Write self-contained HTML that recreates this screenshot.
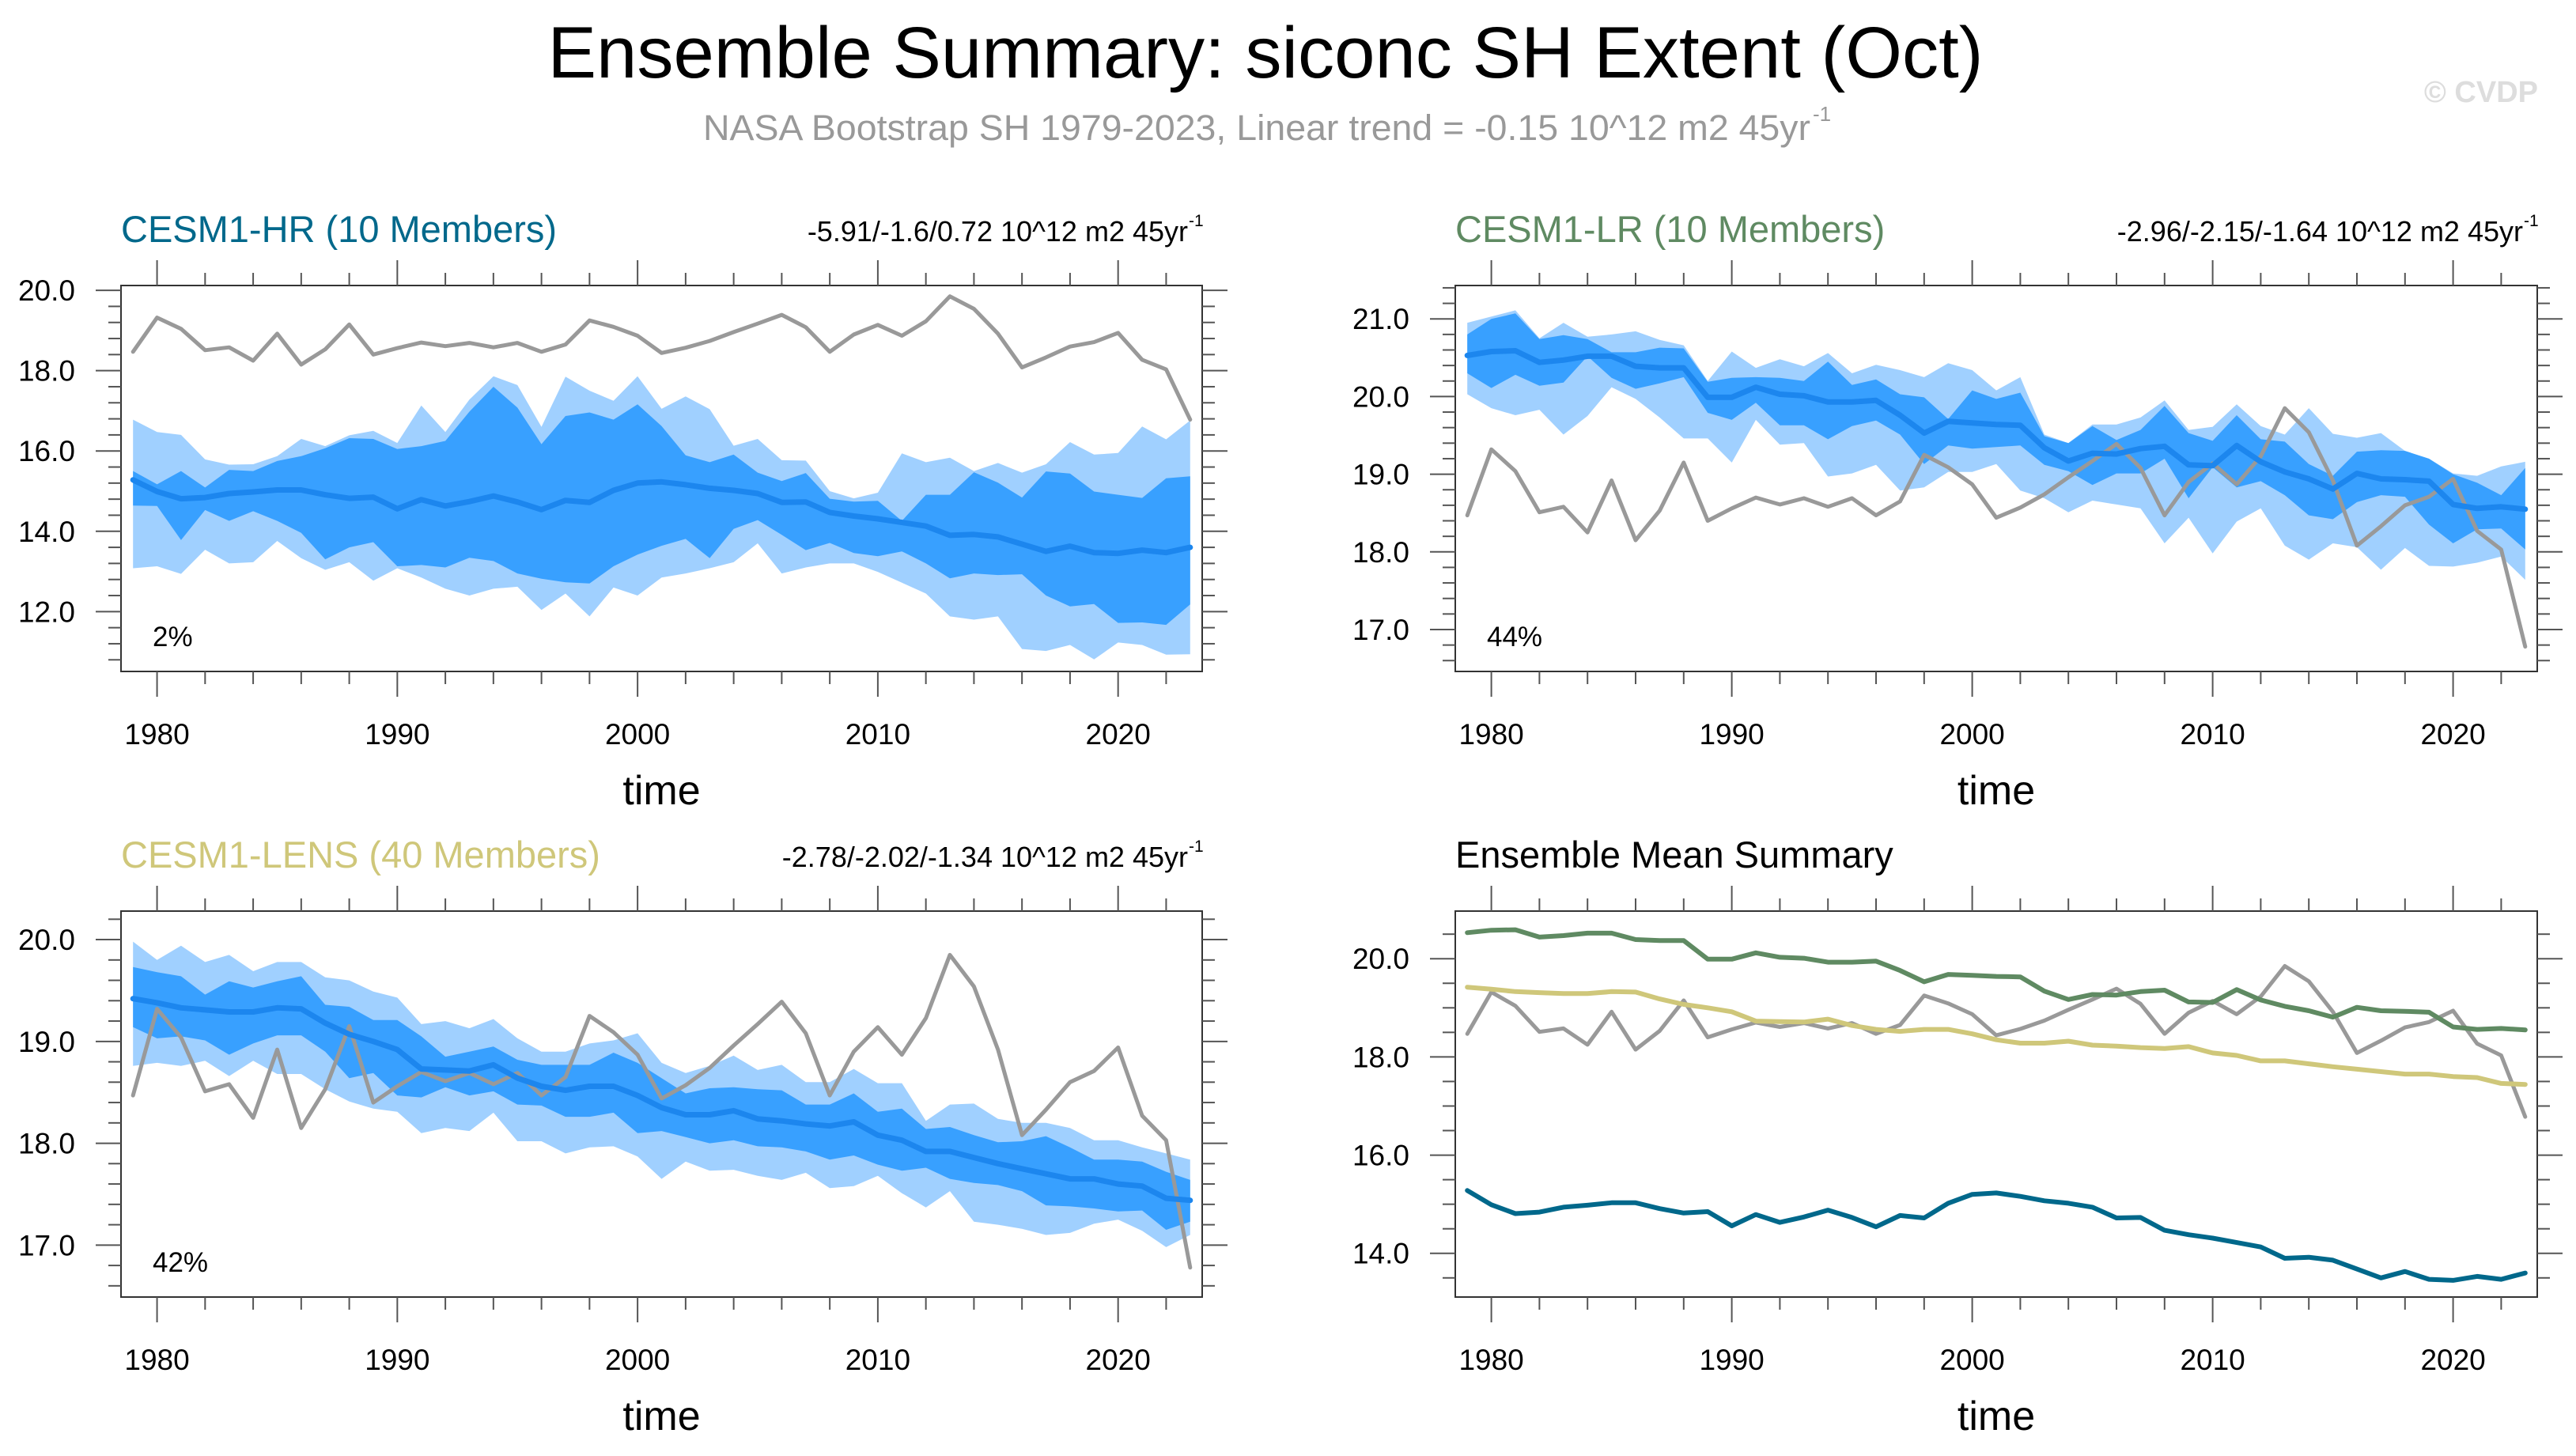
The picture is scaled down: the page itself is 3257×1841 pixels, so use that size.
<!DOCTYPE html>
<html><head><meta charset="utf-8">
<style>
html,body{margin:0;padding:0;background:#fff;}
svg{display:block;font-family:"Liberation Sans",Arial,sans-serif;}
</style></head>
<body>
<svg id="fig" width="3257" height="1841" viewBox="0 0 3257 1841" xmlns="http://www.w3.org/2000/svg">
<text x="1600" y="98" font-size="92" text-anchor="middle" textLength="1815" lengthAdjust="spacingAndGlyphs">Ensemble Summary: siconc SH Extent (Oct)</text>
<text x="889" y="177" font-size="45" fill="#999" textLength="1400" lengthAdjust="spacingAndGlyphs">NASA Bootstrap SH 1979-2023, Linear trend = -0.15 10^12 m2 45yr</text>
<text x="2292" y="153" font-size="26" fill="#999">-1</text>
<text x="3209" y="129" font-size="38" font-weight="bold" fill="#ddd" text-anchor="end">© CVDP</text>
<g id="panels"></g>
</svg>
<script>
const years = [];
for (let y = 1979; y <= 2023; y++) years.push(y);
const obs = [18.47,19.32,19.04,18.51,18.58,18.25,18.92,18.15,18.53,19.15,18.40,18.56,18.70,18.61,18.69,18.58,18.69,18.47,18.65,19.25,19.09,18.87,18.44,18.57,18.74,18.96,19.17,19.39,19.08,18.47,18.90,19.14,18.87,19.23,19.85,19.54,18.92,18.08,18.33,18.60,18.71,18.94,18.27,18.03,16.78];
const hrMean = [15.28,14.99,14.81,14.84,14.94,14.98,15.03,15.03,14.91,14.82,14.85,14.56,14.79,14.63,14.74,14.88,14.73,14.54,14.77,14.72,15.02,15.20,15.23,15.16,15.07,15.02,14.94,14.72,14.73,14.47,14.38,14.31,14.22,14.13,13.90,13.92,13.86,13.68,13.50,13.63,13.47,13.45,13.53,13.47,13.60];
const hrOutTop = [16.78,16.47,16.40,15.79,15.66,15.67,15.87,16.30,16.12,16.39,16.50,16.20,17.13,16.47,17.28,17.86,17.64,16.60,17.85,17.50,17.25,17.86,17.05,17.36,17.04,16.13,16.30,15.77,15.76,15.00,14.82,14.96,15.94,15.72,15.83,15.50,15.70,15.46,15.67,16.22,15.91,15.95,16.61,16.29,16.76];
const hrInTop = [15.50,15.17,15.50,15.09,15.53,15.50,15.75,15.87,16.07,16.32,16.30,16.05,16.12,16.25,16.98,17.60,17.08,16.17,16.87,16.96,16.78,17.16,16.62,15.89,15.72,15.91,15.46,15.25,15.45,14.81,14.74,14.76,14.26,14.91,14.91,15.47,15.21,14.84,15.49,15.44,14.99,14.91,14.83,15.32,15.37];
const hrInBot = [14.64,14.63,13.78,14.53,14.26,14.50,14.26,13.96,13.30,13.60,13.73,13.13,13.16,13.10,13.34,13.26,12.95,12.82,12.73,12.70,13.13,13.42,13.64,13.81,13.33,14.06,14.28,13.91,13.53,13.71,13.46,13.38,13.50,13.20,12.83,12.95,12.91,12.93,12.40,12.13,12.19,11.72,11.73,11.67,12.18];
const hrOutBot = [13.08,13.13,12.94,13.54,13.20,13.23,13.76,13.33,13.04,13.23,12.77,13.08,12.85,12.57,12.40,12.57,12.62,12.04,12.45,11.88,12.60,12.40,12.85,12.95,13.08,13.23,13.70,12.95,13.10,13.20,13.20,12.99,12.72,12.45,11.88,11.80,11.88,11.07,11.02,11.17,10.81,11.23,11.17,10.93,10.94];
const lrMean = [20.53,20.58,20.59,20.44,20.47,20.52,20.52,20.39,20.37,20.37,19.99,19.99,20.12,20.03,20.01,19.93,19.93,19.95,19.76,19.53,19.68,19.66,19.64,19.63,19.34,19.17,19.27,19.26,19.33,19.36,19.12,19.11,19.37,19.16,19.03,18.94,18.81,19.01,18.94,18.93,18.91,18.61,18.56,18.58,18.55];
const lrOutTop = [20.95,21.03,21.11,20.75,20.95,20.77,20.80,20.84,20.73,20.66,20.20,20.58,20.37,20.48,20.39,20.56,20.30,20.41,20.34,20.25,20.43,20.34,20.08,20.25,19.51,19.40,19.64,19.64,19.73,19.95,19.57,19.61,19.90,19.62,19.51,19.85,19.52,19.47,19.53,19.30,19.20,19.01,18.98,19.10,19.16];
const lrInTop = [20.80,21.00,21.07,20.74,20.79,20.74,20.57,20.57,20.63,20.62,20.19,20.24,20.25,20.24,20.20,20.45,20.15,20.22,20.03,19.99,19.71,20.08,19.97,20.05,19.49,19.40,19.62,19.44,19.57,19.88,19.53,19.43,19.76,19.45,19.42,19.13,18.98,19.29,19.31,19.30,19.20,19.00,18.89,18.73,19.08];
const lrInBot = [20.30,20.11,20.28,20.14,20.18,20.52,20.24,20.10,20.17,20.25,19.79,19.70,19.92,19.63,19.63,19.45,19.62,19.69,19.51,19.13,19.37,19.33,19.35,19.37,19.12,19.04,18.86,19.01,19.01,19.20,18.69,19.09,18.83,18.91,18.73,18.47,18.42,18.64,18.73,18.71,18.35,18.11,18.29,18.30,18.03];
const lrOutBot = [20.03,19.85,19.76,19.83,19.51,19.75,20.12,19.97,19.73,19.46,19.46,19.15,19.70,19.38,19.40,18.97,19.01,19.12,18.79,18.83,19.03,19.03,19.13,18.79,18.69,18.51,18.66,18.61,18.56,18.11,18.44,17.98,18.39,18.56,18.08,17.90,18.11,18.06,17.77,18.05,17.82,17.81,17.86,17.94,17.64];
const lensMean = [19.42,19.38,19.33,19.31,19.29,19.29,19.33,19.32,19.18,19.07,19.00,18.92,18.73,18.72,18.71,18.77,18.64,18.56,18.52,18.56,18.56,18.47,18.35,18.28,18.28,18.32,18.24,18.22,18.19,18.17,18.21,18.08,18.03,17.92,17.92,17.86,17.80,17.75,17.70,17.65,17.65,17.60,17.58,17.46,17.44];
const lensOutTop = [19.98,19.80,19.94,19.78,19.85,19.69,19.78,19.78,19.63,19.60,19.49,19.43,19.17,19.20,19.13,19.22,19.03,18.90,18.90,18.98,19.01,19.08,18.79,18.69,18.76,18.86,18.72,18.77,18.60,18.60,18.73,18.59,18.59,18.22,18.38,18.39,18.24,18.20,18.20,18.15,18.03,18.03,17.96,17.90,17.84];
const lensInTop = [19.73,19.68,19.64,19.46,19.59,19.53,19.59,19.64,19.36,19.34,19.21,19.21,19.05,18.85,18.90,18.95,18.82,18.77,18.77,18.77,18.89,18.79,18.64,18.49,18.54,18.55,18.53,18.52,18.38,18.38,18.49,18.31,18.34,18.14,18.16,18.08,18.01,18.02,18.07,17.96,17.84,17.84,17.82,17.72,17.64];
const lensInBot = [19.14,19.03,19.05,19.01,18.87,18.98,19.06,19.06,18.90,18.64,18.69,18.47,18.45,18.55,18.47,18.51,18.38,18.37,18.26,18.26,18.30,18.10,18.12,18.06,18.00,18.03,17.97,17.96,17.92,17.84,17.88,17.79,17.73,17.76,17.65,17.61,17.59,17.53,17.39,17.38,17.36,17.33,17.34,17.15,17.23];
const lensOutBot = [18.76,18.79,18.76,18.81,18.66,18.81,18.68,18.68,18.53,18.41,18.34,18.31,18.10,18.15,18.12,18.30,18.02,18.02,17.90,17.96,17.97,17.87,17.65,17.82,17.73,17.74,17.68,17.64,17.71,17.56,17.58,17.68,17.51,17.37,17.53,17.23,17.20,17.16,17.10,17.12,17.21,17.25,17.14,16.98,17.10];
const xTickLabels = [1980,1990,2000,2010,2020];
const hrTicks = [12,14,16,18,20];
const lrTicks = [17,18,19,20,21];
const lensTicks = [17,18,19,20];
const sumTicks = [14,16,18,20];

const NS = "http://www.w3.org/2000/svg";
const root = document.getElementById('panels');
function mk(tag, attrs, parent) {
  const e = document.createElementNS(NS, tag);
  for (const k in attrs) e.setAttribute(k, attrs[k]);
  (parent || root).appendChild(e);
  return e;
}
function txt(str, attrs, parent) { const e = mk('text', attrs, parent); e.textContent = str; return e; }

function panel(cfg) {
  const g = mk('g', {});
  
  
  const L = cfg.x0, R = cfg.x1, T = cfg.y0, B = cfg.y1;
  const xs = v => L + (v - 1978.5) / 45 * (R - L);
  const ys = v => B - (v - cfg.ymin) / (cfg.ymax - cfg.ymin) * (B - T);
  const band = (top, bot, fill, nm) => {
    let d = '';
    years.forEach((yr, i) => { d += (i ? 'L' : 'M') + xs(yr).toFixed(1) + ',' + ys(top[i]).toFixed(1); });
    for (let i = years.length - 1; i >= 0; i--) d += 'L' + xs(years[i]).toFixed(1) + ',' + ys(bot[i]).toFixed(1);
    const p = mk('path', { d: d + 'Z', fill: fill }, g);
    
    
  };
  const line = (vals, color, w, nm) => {
    const pts = years.map((yr, i) => xs(yr).toFixed(1) + ',' + ys(vals[i]).toFixed(1)).join(' ');
    const p = mk('polyline', { points: pts, fill: 'none', stroke: color, 'stroke-width': w, 'stroke-linejoin': 'round', 'stroke-linecap': 'round' }, g);
    
    
  };
  if (cfg.bands) {
    band(cfg.bands[0], cfg.bands[3], '#a0d0ff', 'outer-spread-band');
    band(cfg.bands[1], cfg.bands[2], '#38a0ff', 'inner-spread-band');
    line(obs, '#999999', 5, 'observed-line');
    line(cfg.mean, '#1c86ee', 7, 'ensemble-mean-line');
  }
  if (cfg.lines) {
    line(obs, '#999999', 5, 'observed-line');
    cfg.lines.forEach(l => line(l.v, l.c, 6, l.n));
  }
  const box = mk('rect', { x: L, y: T, width: R - L, height: B - T, fill: 'none', stroke: '#333', 'stroke-width': 2 }, g);
  
  
  for (let yr = 1980; yr <= 2022; yr += 2) {
    const X = xs(yr), len = (yr % 10 === 0) ? 32 : 16;
    mk('line', { x1: X, x2: X, y1: B, y2: B + len, stroke: '#555', 'stroke-width': 2 }, g);
    mk('line', { x1: X, x2: X, y1: T, y2: T - len, stroke: '#555', 'stroke-width': 2 }, g);
  }
  xTickLabels.forEach(v => {
    const t = txt(String(v), { x: xs(v), y: B + 92, 'font-size': 37, 'text-anchor': 'middle' }, g);
    
    
  });
  const st = cfg.minor;
  for (let v = Math.ceil(cfg.ymin / st) * st; v <= cfg.ymax + 1e-9; v += st) {
    const isMaj = cfg.ticks.some(t => Math.abs(t - v) < 1e-6);
    const len = isMaj ? 32 : 16, Y = ys(v);
    mk('line', { x1: L, x2: L - len, y1: Y, y2: Y, stroke: '#555', 'stroke-width': 2 }, g);
    mk('line', { x1: R, x2: R + len, y1: Y, y2: Y, stroke: '#555', 'stroke-width': 2 }, g);
  }
  cfg.ticks.forEach(v => {
    const t = txt(v.toFixed(1), { x: L - 58, y: ys(v) + 13, 'font-size': 37, 'text-anchor': 'end' }, g);
    
    
  });
  const xt = txt('time', { x: (L + R) / 2, y: B + 168, 'font-size': 52, 'text-anchor': 'middle' }, g);
  
  
  const tl = txt(cfg.title, { x: L, y: T - 55, 'font-size': 47, fill: cfg.tcolor }, g);
  
  
  if (cfg.trend) {
    const tr = txt(cfg.trend, { x: R - 18, y: T - 56, 'font-size': 36, 'text-anchor': 'end' }, g);
    
    
    const ex = txt('-1', { x: R - 17, y: T - 75, 'font-size': 21 }, g);
    
    
  }
  if (cfg.pct) {
    const pc = txt(cfg.pct, { x: L + 40, y: B - 32, 'font-size': 35 }, g);
    
    
  }
}

panel({ name: 'cesm1-hr-panel', x0: 153, x1: 1520, y0: 361, y1: 849, ymin: 10.51, ymax: 20.12, ticks: hrTicks, minor: 0.4,
  title: 'CESM1-HR (10 Members)', tcolor: '#00688b', trend: '-5.91/-1.6/0.72 10^12 m2 45yr', pct: '2%',
  mean: hrMean, bands: [hrOutTop, hrInTop, hrInBot, hrOutBot] });
panel({ name: 'cesm1-lr-panel', x0: 1840, x1: 3208, y0: 361, y1: 849, ymin: 16.46, ymax: 21.43, ticks: lrTicks, minor: 0.2,
  title: 'CESM1-LR (10 Members)', tcolor: '#5f8a62', trend: '-2.96/-2.15/-1.64 10^12 m2 45yr', pct: '44%',
  mean: lrMean, bands: [lrOutTop, lrInTop, lrInBot, lrOutBot] });
panel({ name: 'cesm1-lens-panel', x0: 153, x1: 1520, y0: 1152, y1: 1640, ymin: 16.49, ymax: 20.28, ticks: lensTicks, minor: 0.2,
  title: 'CESM1-LENS (40 Members)', tcolor: '#cfc77a', trend: '-2.78/-2.02/-1.34 10^12 m2 45yr', pct: '42%',
  mean: lensMean, bands: [lensOutTop, lensInTop, lensInBot, lensOutBot] });
panel({ name: 'ensemble-mean-summary-panel', x0: 1840, x1: 3208, y0: 1152, y1: 1640, ymin: 13.11, ymax: 20.97, ticks: sumTicks, minor: 0.5,
  title: 'Ensemble Mean Summary', tcolor: '#000',
  lines: [ { v: lrMean, c: '#5f8a62', n: 'cesm1-lr-mean-line' }, { v: lensMean, c: '#cfc77a', n: 'cesm1-lens-mean-line' }, { v: hrMean, c: '#00688b', n: 'cesm1-hr-mean-line' } ] });
</script>
</body></html>
